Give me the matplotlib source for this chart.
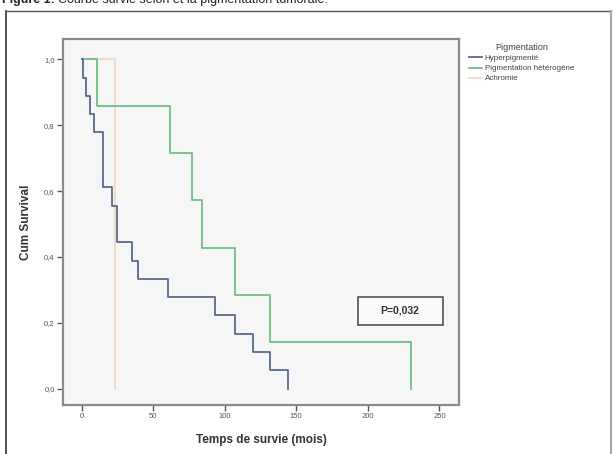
import matplotlib
matplotlib.use("Agg")
import matplotlib.pyplot as plt
from matplotlib.lines import Line2D
from matplotlib.patches import Rectangle

# Kaplan-Meier steps
hyper_t = [0, 1, 3, 6, 9, 15, 21, 24.5, 35, 39.5, 60.5, 93, 107, 120, 131.5, 144]
hyper_s = [1.0, 17/18, 16/18, 15/18, 14/18, 11/18, 10/18, 8/18, 7/18, 6/18,
           5/18, 4/18, 3/18, 2/18, 1/18, 0.0]

hetero_t = [0, 10.5, 61.7, 77.3, 83.8, 107.5, 131.5, 230.4]
hetero_s = [1.0, 6/7, 5/7, 4/7, 3/7, 2/7, 1/7, 0.0]

achro_t = [0, 23]
achro_s = [1.0, 0.0]

groups = ["Hyperpigmenté", "Pigmentation hétérogène", "Achromie"]
colors = ["#5a6890", "#72bd84", "#f2d6bd"]

xticks = [0, 50, 100, 150, 200, 250]
yticks = [0.0, 0.2, 0.4, 0.6, 0.8, 1.0]
ytick_labels = ["0,0", "0,2", "0,4", "0,6", "0,8", "1,0"]
p_text = "P=0,032"


def main():
    plt.rcParams["font.family"] = ["Liberation Sans", "DejaVu Sans"]
    fig = plt.figure(figsize=(6.14, 4.54), dpi=100)
    W, H = 614, 454

    # caption cut at the top edge
    fig.text(2 / W, 1.0, "Figure 1:", fontsize=9, fontweight="bold",
             va="center", ha="left", color="#222222")
    fig.text(58 / W, 1.0, "Courbe survie selon et la pigmentation tumorale.",
             fontsize=9, va="center", ha="left", color="#222222")

    # outer frame around the chart
    fig.add_artist(Line2D([6 / W, 6 / W], [0, 1 - 11 / H], color="#333333", lw=1.2))
    fig.add_artist(Line2D([6 / W, 611 / W], [1 - 11 / H, 1 - 11 / H], color="#555555", lw=1.0))
    fig.add_artist(Line2D([611 / W, 611 / W], [0, 1 - 11 / H], color="#aaaaaa", lw=1.5))

    ax = fig.add_axes([63 / W, 1 - 405 / H, (459 - 63) / W, (405 - 39) / H])
    ax.set_facecolor("#f6f6f6")

    ax.step(achro_t, achro_s, where="post", color=colors[2], lw=1.2, label=groups[2], zorder=2)
    ax.step(hetero_t, hetero_s, where="post", color=colors[1], lw=1.3, label=groups[1], zorder=3)
    ax.step(hyper_t, hyper_s, where="post", color=colors[0], lw=1.3, label=groups[0], zorder=4)

    ax.set_xlim(-13, 263.7)
    ax.set_ylim(-0.0495, 1.0616)
    ax.set_xticks(xticks)
    ax.set_yticks(yticks)
    ax.set_yticklabels(ytick_labels)
    ax.tick_params(labelsize=5.5, colors="#555555", length=4, width=1, pad=2)

    for s in ax.spines.values():
        s.set_color("#8a8a8a")
        s.set_linewidth(1.6)

    ax.set_xlabel("Temps de survie (mois)", fontsize=8.5, fontweight="bold",
                  color="#333333", labelpad=10)
    ax.set_ylabel("Cum Survival", fontsize=8.5, fontweight="bold",
                  color="#333333", labelpad=9)

    # p-value box
    ax.add_patch(Rectangle((193, 0.193), 59.3, 0.085, fc="#f9f9f9", ec="#444444",
                           lw=1.1, zorder=5))
    ax.text(222.6, 0.236, p_text, fontsize=7.5, fontweight="bold", color="#333333",
            ha="center", va="center", zorder=6)

    handles, labels = ax.get_legend_handles_labels()
    order = [2, 1, 0]
    leg = fig.legend([handles[i] for i in order], [labels[i] for i in order],
                     title="Pigmentation", loc="upper left",
                     bbox_to_anchor=(466 / W, 1 - 40 / H), frameon=False,
                     fontsize=5.8, title_fontsize=6.5, handlelength=1.6,
                     handletextpad=0.3, labelspacing=0.3, borderaxespad=0)
    leg.get_title().set_color("#444444")
    for t in leg.get_texts():
        t.set_color("#444444")

    fig.savefig("out.png", dpi=100, facecolor="white")


if __name__ == "__main__":
    main()
